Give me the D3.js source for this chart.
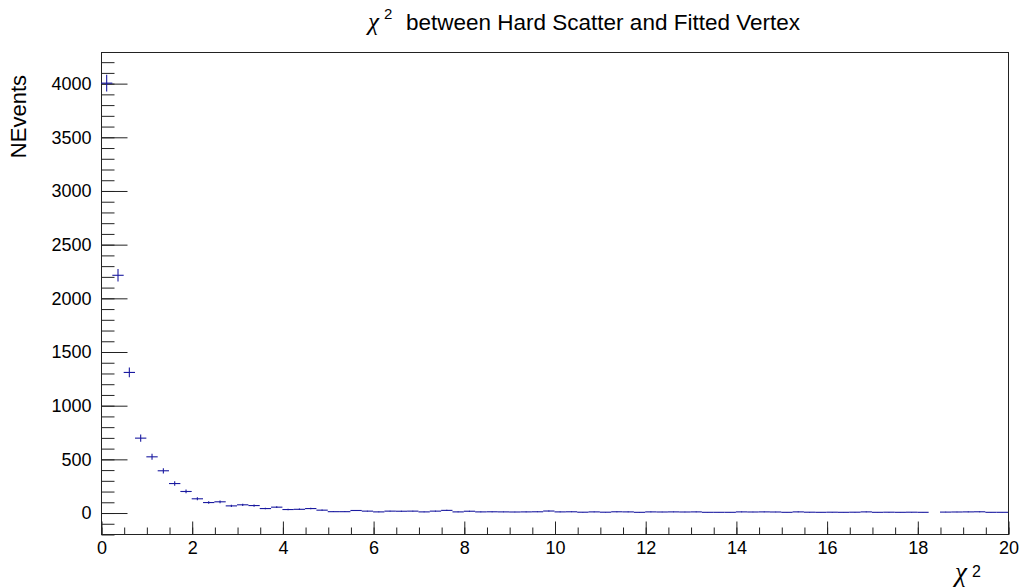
<!DOCTYPE html>
<html>
<head>
<meta charset="utf-8">
<script src="https://cdn.jsdelivr.net/npm/d3@7"></script>
<style>
  html, body { margin: 0; padding: 0; background: #fff; }
  svg { display: block; }
  text { font-family: "Liberation Sans", Arial, Helvetica, sans-serif; fill: #000; }
  .greek { font-family: "Liberation Serif", "Times New Roman", serif; font-style: italic; }
</style>
</head>
<body>
<svg id="chart" width="1020" height="587"></svg>
<script>
// Histogram: chi-square between hard-scatter and fitted vertex, 80 bins over [0, 20]
const binLow = 0;
const binHigh = 20;
const binWidth = 0.25;

// Bin contents (NEvents per bin, in bin order)
const counts = [
  4000, 2210, 1305, 693, 519, 389, 270, 196, 128, 93,
  100, 62, 72, 65, 37, 50, 28, 30, 37, 22,
  8, 8, 19, 13, 6, 13, 12, 13, 6, 13,
  20, 6, 12, 6, 7, 6, 5, 6, 7, 14,
  6, 7, 3, 6, 3, 7, 6, 2, 6, 5,
  6, 5, 6, 2, 2, 2, 6, 5, 6, 5,
  2, 6, 3, 2, 3, 2, 3, 6, 2, 3,
  2, 3, 2, 0, 4, 5, 6, 7, 2, 2
];

// Per-event weight used for the statistical uncertainty sqrt(sum w^2)
const eventWeight = 1.56;

const yTicksMajor = [0, 500, 1000, 1500, 2000, 2500, 3000, 3500, 4000];
const xTicksMajor = [0, 2, 4, 6, 8, 10, 12, 14, 16, 18, 20];

const titleText = "between Hard Scatter and Fitted Vertex";
const yTitle = "NEvents";

// Frame geometry
const frame = { left: 101, right: 1008, top: 52, bottom: 534 };

const svg = d3.select("#chart");

const x = d3.scaleLinear().domain([binLow, binHigh]).range([frame.left, frame.right]);
const y = d3.scaleLinear().domain([-200, 4290]).range([frame.bottom, frame.top]);

const bins = counts.map((c, i) => ({
  lo: binLow + i * binWidth,
  hi: binLow + (i + 1) * binWidth,
  value: c,
  err: Math.sqrt(c * eventWeight)
}));

// Frame box
svg.append("rect")
  .attr("x", frame.left + 0.5).attr("y", frame.top + 0.5)
  .attr("width", frame.right - frame.left).attr("height", frame.bottom - frame.top)
  .attr("fill", "none").attr("stroke", "#222").attr("stroke-width", 1);

// Y axis: minor ticks every 100, major every 500, drawn inward
const yMinor = d3.range(-200, 4300, 100);
const gyMinor = svg.append("g").attr("transform", `translate(${frame.left + 0.5},0.5)`)
  .call(d3.axisLeft(y).tickValues(yMinor).tickSize(-13).tickFormat(""));
const gyMajor = svg.append("g").attr("transform", `translate(${frame.left + 0.5},0.5)`)
  .call(d3.axisLeft(y).tickValues(yTicksMajor).tickSize(-26).tickPadding(10).tickFormat(d3.format("d")));
[gyMinor, gyMajor].forEach(g => {
  g.select(".domain").remove();
  g.selectAll(".tick line").attr("stroke", "#222");
});
gyMajor.selectAll(".tick text").attr("font-size", 18).attr("font-family", "Liberation Sans, Arial, sans-serif").attr("fill", "#000");

// X axis: minor ticks every 0.5, major every 2, drawn inward
const xMinor = d3.range(binLow, binHigh + 0.001, 0.5);
const gxMinor = svg.append("g").attr("transform", `translate(0.5,${frame.bottom + 0.5})`)
  .call(d3.axisBottom(x).tickValues(xMinor).tickSize(-7).tickFormat(""));
const gxMajor = svg.append("g").attr("transform", `translate(0.5,${frame.bottom + 0.5})`)
  .call(d3.axisBottom(x).tickValues(xTicksMajor).tickSize(-13).tickPadding(7).tickFormat(d3.format("d")));
[gxMinor, gxMajor].forEach(g => {
  g.select(".domain").remove();
  g.selectAll(".tick line").attr("stroke", "#222");
});
gxMajor.selectAll(".tick text").attr("font-size", 18).attr("font-family", "Liberation Sans, Arial, sans-serif").attr("fill", "#000");

// Data: horizontal bin-width bars and vertical error bars (empty bins skipped)
const marks = svg.append("g").attr("stroke", "#1a1aa0").attr("stroke-width", 1.1).attr("fill", "none");
const filled = bins.filter(b => b.value > 0);
marks.selectAll("line.h").data(filled).join("line").attr("class", "h")
  .attr("x1", d => x(d.lo)).attr("x2", d => x(d.hi))
  .attr("y1", d => y(d.value)).attr("y2", d => y(d.value));
marks.selectAll("line.v").data(filled).join("line").attr("class", "v")
  .attr("x1", d => x((d.lo + d.hi) / 2)).attr("x2", d => x((d.lo + d.hi) / 2))
  .attr("y1", d => y(d.value - d.err)).attr("y2", d => y(d.value + d.err));

// Title
const title = svg.append("g");
title.append("text").attr("class", "greek").attr("x", 368).attr("y", 30).attr("font-size", 25).text("χ");
title.append("text").attr("x", 384).attr("y", 19).attr("font-size", 15).text("2");
title.append("text").attr("x", 406).attr("y", 30).attr("font-size", 22.5).text(titleText);

// Y title
svg.append("text")
  .attr("transform", "translate(26,75) rotate(-90)")
  .attr("text-anchor", "end").attr("font-size", 22).text(yTitle);

// X title
svg.append("text").attr("class", "greek").attr("x", 955).attr("y", 581).attr("font-size", 27).text("χ");
svg.append("text").attr("x", 972).attr("y", 577).attr("font-size", 16).text("2");
</script>
</body>
</html>
